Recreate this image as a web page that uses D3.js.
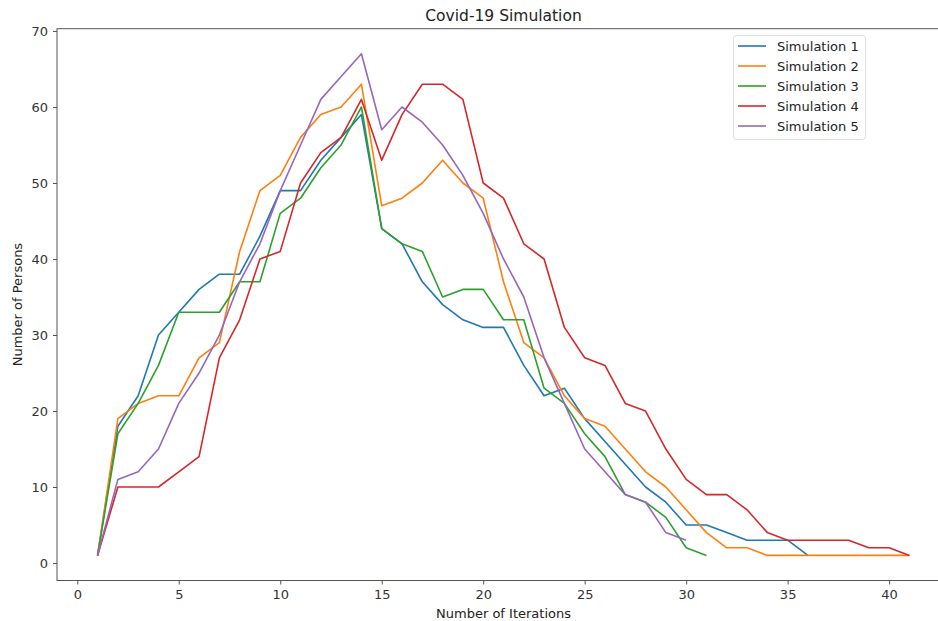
<!DOCTYPE html>
<html><head><meta charset="utf-8">
<script src="https://cdn.jsdelivr.net/npm/d3@7"></script>
<style>body{margin:0;background:#fff;} svg{display:block;font-family:"DejaVu Sans",sans-serif;}</style>
</head><body><svg id="c" width="938" height="621"></svg>
<script>
const seriesNames = ["Simulation 1","Simulation 2","Simulation 3","Simulation 4","Simulation 5"];
const colors = ["#1f77b4","#ff7f0e","#2ca02c","#d62728","#9467bd"];
const sim1 = [1,18,22,30,33,36,38,38,43,49,49,53,56,59,44,42,37,34,32,31,31,26,22,23,19,16,13,10,8,5,5,4,3,3,3,1];
const sim2 = [1,19,21,22,22,27,29,41,49,51,56,59,60,63,47,48,50,53,50,48,37,29,27,22,19,18,15,12,10,7,4,2,2,1,1,1,1,1,1,1,1];
const sim3 = [1,17,21,26,33,33,33,37,37,46,48,52,55,60,44,42,41,35,36,36,32,32,23,21,17,14,9,8,6,2,1];
const sim4 = [1,10,10,10,12,14,27,32,40,41,50,54,56,61,53,59,63,63,61,50,48,42,40,31,27,26,21,20,15,11,9,9,7,4,3,3,3,3,2,2,1];
const sim5 = [1,11,12,15,21,25,30,37,42,49,55,61,64,67,57,60,58,55,51,46,40,35,27,21,15,12,9,8,4,3];
const xTicks = [0,5,10,15,20,25,30,35,40];
const yTicks = [0,10,20,30,40,50,60,70];
const title = "Covid-19 Simulation", xLabel = "Number of Iterations", yLabel = "Number of Persons";

const all = [sim1,sim2,sim3,sim4,sim5];
const svg = d3.select("#c");
const L = 57, R = 950, T = 28.7, B = 580.5;
const x = d3.scaleLinear().domain([-1,43]).range([L,R]);
const y = d3.scaleLinear().domain([-2.3,70.3]).range([B,T]);
const axisColor = "#333";

// spines
svg.append("rect").attr("x",L).attr("y",T).attr("width",R-L).attr("height",B-T)
  .attr("fill","none").attr("stroke","#555").attr("stroke-width",1);

const xa = svg.append("g").attr("transform",`translate(0,${B})`)
  .call(d3.axisBottom(x).tickValues(xTicks).tickSize(4).tickPadding(5).tickFormat(d3.format("d")));
const ya = svg.append("g").attr("transform",`translate(${L},0)`)
  .call(d3.axisLeft(y).tickValues(yTicks).tickSize(4).tickPadding(5).tickFormat(d3.format("d")));
[xa,ya].forEach(g=>{
  g.select(".domain").remove();
  g.selectAll(".tick line").attr("stroke","#555");
  g.selectAll(".tick text").attr("fill",axisColor).style("font-size","13px").style("font-family","DejaVu Sans");
});

const line = d3.line().x((d,i)=>x(i+1)).y(d=>y(d));
all.forEach((s,k)=>{
  svg.append("path").datum(s).attr("d",line).attr("fill","none")
    .attr("stroke",colors[k]).attr("stroke-width",1.6).attr("stroke-linejoin","round");
});

svg.append("text").attr("x",(L+R)/2).attr("y",21).attr("text-anchor","middle")
  .style("font-size","15.5px").attr("fill","#222").text(title);
svg.append("text").attr("x",(L+R)/2).attr("y",618).attr("text-anchor","middle")
  .style("font-size","13px").attr("fill","#222").text(xLabel);
svg.append("text").attr("transform",`translate(22,${(T+B)/2}) rotate(-90)`).attr("text-anchor","middle")
  .style("font-size","13px").attr("fill","#222").text(yLabel);

// legend
const lg = svg.append("g");
lg.append("rect").attr("x",733.5).attr("y",35.5).attr("width",132).attr("height",104).attr("rx",3)
  .attr("fill","#fff").attr("fill-opacity",0.8).attr("stroke","#ddd");
seriesNames.forEach((n,k)=>{
  const yy = 46 + k*20;
  lg.append("line").attr("x1",738).attr("x2",766).attr("y1",yy).attr("y2",yy)
    .attr("stroke",colors[k]).attr("stroke-width",1.6);
  lg.append("text").attr("x",777).attr("y",yy+4.5).style("font-size","13px").attr("fill","#222").text(n);
});
</script></body></html>
